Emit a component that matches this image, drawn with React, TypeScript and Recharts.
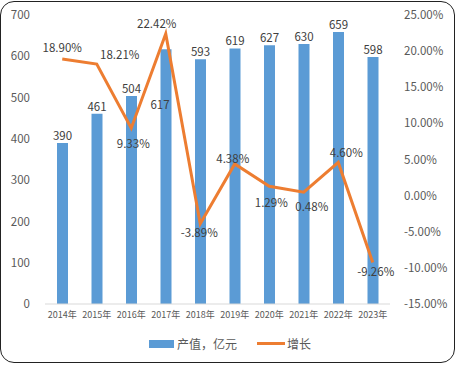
import React from 'react';
import { ComposedChart, Bar, Line, XAxis, YAxis, Legend, LabelList } from 'recharts';

const years = ['2014年', '2015年', '2016年', '2017年', '2018年', '2019年', '2020年', '2021年', '2022年', '2023年'];
const output = [390, 461, 504, 617, 593, 619, 627, 630, 659, 598];
const growth = [18.9, 18.21, 9.33, 22.42, -3.89, 4.38, 1.29, 0.48, 4.6, -9.26];
const leftTicks = [0, 100, 200, 300, 400, 500, 600, 700];
const rightTicks = [-15, -10, -5, 0, 5, 10, 15, 20, 25];

const data = years.map((y, i) => ({ year: y, output: output[i], growth: growth[i] }));

const BAR_COLOR = '#5B9BD5';
const LINE_COLOR = '#ED7D31';
const FONT = '"Noto Sans CJK SC", "Noto Sans", sans-serif';

// label placement offsets (style only)
const lineLabelOffsets: [number, number][] = [
  [0, -12], [23, -10], [2, 15], [-9, -11], [-1, 8], [-2, -6], [2, 16], [8, 14], [8, -10], [3, 8],
];
const barLabelOffsets: [number, number][] = [
  [0, -8], [0, -8], [0, -8], [-6, 55], [0, -8], [0, -8], [0, -8], [0, -8], [0, -8], [0, -8],
];

const LineLabel = (props: any) => {
  const { x, y, index, value } = props;
  const [dx, dy] = lineLabelOffsets[index] || [0, -10];
  return (
    <text x={x + dx} y={y + dy} textAnchor="middle" dominantBaseline="central" fontSize={11.5} fill="#404040" fontFamily={FONT}>
      {Number(value).toFixed(2)}%
    </text>
  );
};

const BarLabel = (props: any) => {
  const { x, y, width, index, value } = props;
  const [dx, dy] = barLabelOffsets[index] || [0, -8];
  return (
    <text x={x + width / 2 + dx} y={y + dy} textAnchor="middle" dominantBaseline="central" fontSize={11.5} fill="#404040" fontFamily={FONT}>
      {value}
    </text>
  );
};

const LegendContent = () => (
  <div style={{ position: 'relative', height: 30, width: 456, fontFamily: FONT, fontSize: 12, color: '#595959' }}>
    <div style={{ position: 'absolute', left: 149, top: 9, width: 25, height: 8, background: BAR_COLOR }} />
    <div style={{ position: 'absolute', left: 177, top: 4, lineHeight: '18px' }}>产值，亿元</div>
    <div style={{ position: 'absolute', left: 257, top: 11, width: 28, height: 3, background: LINE_COLOR }} />
    <div style={{ position: 'absolute', left: 287, top: 4, lineHeight: '18px' }}>增长</div>
  </div>
);

export default function App() {
  return (
    <div style={{ position: 'absolute', left: 0, top: 0, width: 456, height: 365, background: '#fff' }}>
      <div style={{ position: 'absolute', left: 0, top: 1, width: 455, height: 362, boxSizing: 'border-box', border: '1.5px solid #222', borderRadius: 14 }} />
      <ComposedChart width={456} height={365} data={data} margin={{ top: 15, right: 0, left: 0, bottom: 0 }} style={{ fontFamily: FONT }}>
        <XAxis dataKey="year" height={27} tickLine={false} axisLine={{ stroke: '#d9d9d9' }} tick={{ fontSize: 9, fill: '#595959', fontFamily: FONT }} interval={0} />
        <YAxis yAxisId="left" orientation="left" width={45} domain={[0, 700]} ticks={leftTicks} tickLine={false} axisLine={false} tickMargin={9} tick={{ fontSize: 11.5, fill: '#595959', fontFamily: FONT }} />
        <YAxis yAxisId="right" orientation="right" width={66} domain={[-15, 25]} ticks={rightTicks} tickLine={false} axisLine={false} tickMargin={8} tickFormatter={(v: number) => v.toFixed(2) + '%'} tick={{ fontSize: 11.5, fill: '#595959', fontFamily: FONT }} />
        <Legend verticalAlign="bottom" height={34} content={<LegendContent />} wrapperStyle={{ left: 0, width: 456 }} />
        <Bar yAxisId="left" dataKey="output" fill={BAR_COLOR} barSize={11} isAnimationActive={false}>
          <LabelList dataKey="output" content={<BarLabel />} />
        </Bar>
        <Line yAxisId="right" dataKey="growth" type="linear" stroke={LINE_COLOR} strokeWidth={3} dot={false} isAnimationActive={false}>
          <LabelList dataKey="growth" content={<LineLabel />} />
        </Line>
      </ComposedChart>
    </div>
  );
}
